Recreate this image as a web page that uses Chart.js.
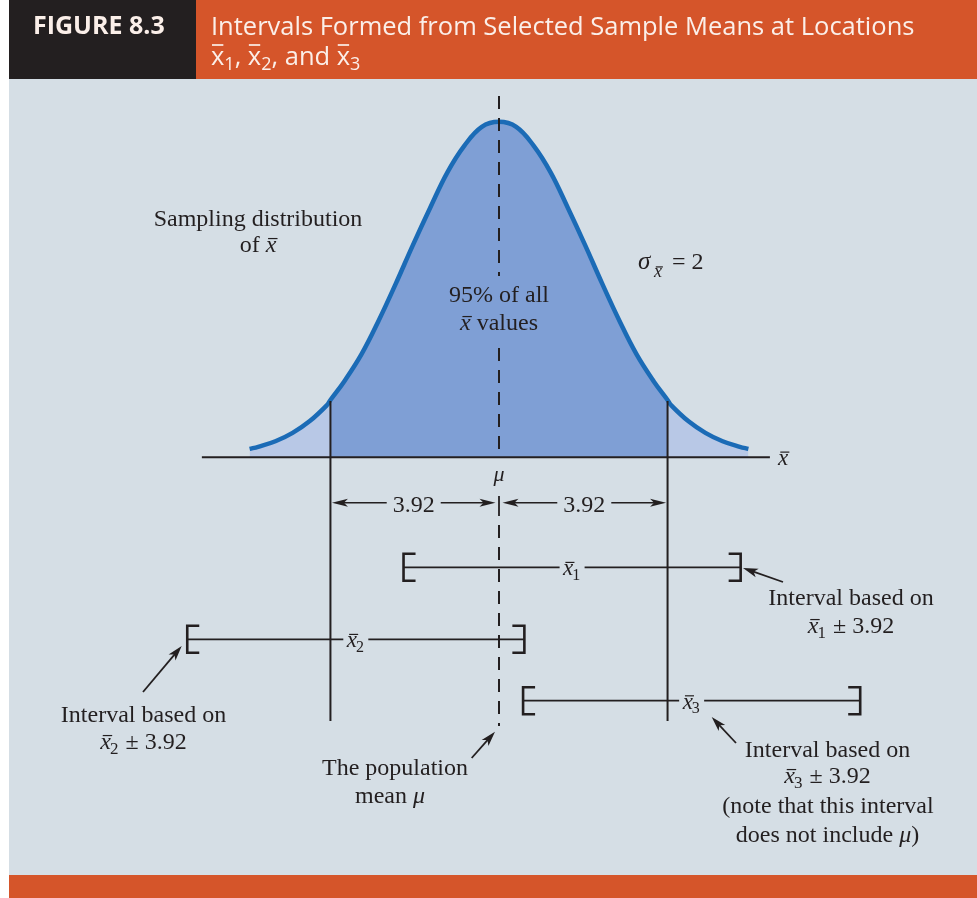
<!DOCTYPE html>
<html><head><meta charset="utf-8">
<script src="https://cdn.jsdelivr.net/npm/chart.js@4.4.1/dist/chart.umd.min.js"></script>
<style>html,body{margin:0;padding:0;background:#fff;}canvas{display:block;}</style>
</head><body>
<canvas id="c" width="977" height="898"></canvas>
<script>
// ---------------- data ----------------
const curveX = [-5.8,-5.6,-5.2,-4.8,-4.4,-4.0,-3.92,-3.6,-3.2,-2.8,-2.4,-2.0,-1.6,-1.2,-0.8,-0.4,0,0.4,0.8,1.2,1.6,2.0,2.4,2.8,3.2,3.6,3.92,4.0,4.4,4.8,5.2,5.6,5.8];
const curveY = [0.005,0.0062,0.0095,0.0145,0.0215,0.031,0.034,0.045,0.061,0.081,0.103,0.126,0.148,0.169,0.185,0.196,0.199,0.196,0.185,0.169,0.148,0.126,0.103,0.081,0.061,0.045,0.034,0.031,0.0215,0.0145,0.0095,0.0062,0.005];
const populationMean = 0;
const sigmaXbar = 2;
const marginOfError = 3.92;
const sampleMeanLabels = ['1', '2', '3'];
const sampleMeans = [1.70, -3.33, 4.48];
const figureNumber = 'FIGURE 8.3';
const titleLine1 = 'Intervals Formed from Selected Sample Means at Locations';

// ---------------- styling ----------------
const C = {
  bg: '#d5dee5', orange: '#d5552a', dark: '#231f20', ink: '#231f20',
  tail: '#b8c8e6', center: '#7f9fd5', curve: '#1b6bb6', head: '#fbefe9'
};
const SERIF = '"Liberation Serif", "Times New Roman", serif';
const SANS = '"Open Sans", "Noto Sans", sans-serif';
const PX_PER_X = 43, MU_PX = 499, BASE_PX = 457.3, PX_PER_Y = 1686;
const TOP = 79, BOTTOM = 875, W = 977;

const pts = curveX.map((x, i) => ({ x, y: curveY[i] }));
const lo = populationMean - marginOfError, hi = populationMean + marginOfError;
const eps = 1e-9;
const leftTail = pts.filter(p => p.x <= lo + eps);
const mid = pts.filter(p => p.x >= lo - eps && p.x <= hi + eps);
const rightTail = pts.filter(p => p.x >= hi - eps);

function line(ctx, x1, y1, x2, y2, w) {
  ctx.lineWidth = w; ctx.beginPath(); ctx.moveTo(x1, y1); ctx.lineTo(x2, y2); ctx.stroke();
}
function head(ctx, tx, ty, fx, fy, len, half) {
  const dx = tx - fx, dy = ty - fy, d = Math.hypot(dx, dy), ux = dx / d, uy = dy / d;
  const bx = tx - ux * len, by = ty - uy * len;
  ctx.beginPath(); ctx.moveTo(tx, ty);
  ctx.lineTo(bx - uy * half, by + ux * half);
  ctx.lineTo(bx + ux * len * 0.25, by + uy * len * 0.25);
  ctx.lineTo(bx + uy * half, by - ux * half);
  ctx.closePath(); ctx.fill();
}
function arrow(ctx, fx, fy, tx, ty) {
  const d = Math.hypot(tx - fx, ty - fy);
  const ex = tx - (tx - fx) / d * 8, ey = ty - (ty - fy) / d * 8;
  line(ctx, fx, fy, ex, ey, 1.8);
  head(ctx, tx, ty, fx, fy, 15, 4.5);
}
function pieceWidth(ctx, p, size) {
  if (p.rm !== undefined) { ctx.font = `${size}px ${SERIF}`; return ctx.measureText(p.rm).width; }
  if (p.it !== undefined) { ctx.font = `italic ${size}px ${SERIF}`; return ctx.measureText(p.it).width; }
  ctx.font = `italic ${size}px ${SERIF}`; let w = ctx.measureText('x').width;
  if (p.xb) { ctx.font = `${Math.round(size * 0.7)}px ${SERIF}`; w += ctx.measureText(p.xb).width; }
  return w;
}
function drawPiece(ctx, p, x, y, size) {
  if (p.rm !== undefined) { ctx.font = `${size}px ${SERIF}`; ctx.fillText(p.rm, x, y); return; }
  if (p.it !== undefined) { ctx.font = `italic ${size}px ${SERIF}`; ctx.fillText(p.it, x, y); return; }
  ctx.font = `italic ${size}px ${SERIF}`;
  const w = ctx.measureText('x').width;
  ctx.fillText('x', x, y);
  line(ctx, x + size * 0.1, y - size * 0.56, x + w + size * 0.05, y - size * 0.56, 1.2);
  if (p.xb) { ctx.font = `${Math.round(size * 0.7)}px ${SERIF}`; ctx.fillText(p.xb, x + w - 1, y + size * 0.2); }
}
function rich(ctx, parts, cx, y, size, align) {
  const ws = parts.map(p => pieceWidth(ctx, p, size));
  const total = ws.reduce((a, b) => a + b, 0);
  let x = align === 'left' ? cx : cx - total / 2;
  ctx.textAlign = 'left';
  parts.forEach((p, i) => { drawPiece(ctx, p, x, y, size); x += ws[i]; });
}
function bracket(ctx, x, y, dir) {
  ctx.lineWidth = 2.6; ctx.lineJoin = 'miter';
  ctx.beginPath(); ctx.moveTo(x + dir * 12, y - 13.5); ctx.lineTo(x, y - 13.5);
  ctx.lineTo(x, y + 13.5); ctx.lineTo(x + dir * 12, y + 13.5); ctx.stroke();
}

const overlay = {
  id: 'overlay',
  beforeDraw(chart) {
    const ctx = chart.ctx; ctx.save();
    ctx.fillStyle = '#ffffff'; ctx.fillRect(0, 0, W, 898);
    ctx.fillStyle = C.bg; ctx.fillRect(9, TOP, W - 9, BOTTOM - TOP);
    ctx.fillStyle = C.orange; ctx.fillRect(9, 0, W - 9, TOP); ctx.fillRect(9, BOTTOM, W - 9, 898 - BOTTOM);
    ctx.fillStyle = C.dark; ctx.fillRect(9, 0, 187, TOP);
    ctx.textBaseline = 'alphabetic'; ctx.textAlign = 'left';
    ctx.fillStyle = C.head; ctx.font = `bold 25px ${SANS}`;
    ctx.fillText(figureNumber, 33, 34, 139);
    ctx.font = `25.5px ${SANS}`;
    ctx.fillText(titleLine1, 211, 35, 710);
    // second line: x̄1, x̄2, and x̄3
    ctx.strokeStyle = C.head;
    let x = 211; const y = 65;
    sampleMeanLabels.forEach((lab, i) => {
      ctx.font = `25.5px ${SANS}`;
      const w = ctx.measureText('x').width;
      ctx.fillText('x', x, y);
      line(ctx, x + 1, y - 20, x + w - 1, y - 20, 1.7);
      x += w;
      ctx.font = `18px ${SANS}`; ctx.fillText(lab, x, y + 5); x += ctx.measureText(lab).width;
      ctx.font = `25.5px ${SANS}`;
      const sep = i === 0 ? ', ' : (i === 1 ? ', and ' : '');
      if (sep) { ctx.fillText(sep, x, y); x += ctx.measureText(sep).width; }
    });
    ctx.restore();
  },
  afterDatasetsDraw(chart) {
    const ctx = chart.ctx, X = chart.scales.x, Y = chart.scales.y;
    const px = v => X.getPixelForValue(v), py = v => Y.getPixelForValue(v);
    const base = py(0), mu = px(populationMean);
    ctx.save();
    ctx.strokeStyle = C.ink; ctx.fillStyle = C.ink; ctx.lineCap = 'butt';
    ctx.textBaseline = 'alphabetic';
    // horizontal axis
    line(ctx, px(-6.91), base, px(6.3), base, 2);
    // 95% boundaries
    [lo, hi].forEach(b => {
      const h = curveY[curveX.indexOf(b)];
      line(ctx, px(b), py(h) + 1, px(b), 721, 2);
    });
    // population mean dashed line
    ctx.setLineDash([13, 9]);
    [[96, 276], [348, base], [525, 726]].forEach(s => { ctx.lineDashOffset = 0; line(ctx, mu, s[0], mu, s[1], 2); });
    ctx.setLineDash([]);
    line(ctx, mu, 496, mu, 516, 1.8);
    // dimension arrows ±3.92
    const dimY = 502.7, lab = marginOfError.toFixed(2);
    const dim = (a, b) => {
      const m = (a + b) / 2;
      ctx.font = `24px ${SERIF}`; const tw = ctx.measureText(lab).width;
      line(ctx, a + 10, dimY, m - tw / 2 - 6, dimY, 1.6);
      line(ctx, m + tw / 2 + 6, dimY, b - 10, dimY, 1.6);
      head(ctx, a, dimY, a + 20, dimY, 16, 4);
      head(ctx, b, dimY, b - 20, dimY, 16, 4);
      ctx.textAlign = 'center'; ctx.fillText(lab, m, dimY + 9);
    };
    dim(px(lo) + 1.5, mu - 3.5);
    dim(mu + 3.5, px(hi) - 1.5);
    // sample-mean intervals
    const rowsY = [567.3, 639.3, 700.7];
    sampleMeans.forEach((m, i) => {
      const a = px(m - marginOfError), b = px(m + marginOfError), c = px(m), y = rowsY[i];
      line(ctx, a, y, c - 12.5, y, 1.8);
      line(ctx, c + 12.5, y, b, y, 1.8);
      bracket(ctx, a, y, 1); bracket(ctx, b, y, -1);
      rich(ctx, [{ xb: sampleMeanLabels[i] }], c - 9, y + 8, 23, 'left');
    });
    // texts
    ctx.textAlign = 'center'; ctx.font = `24px ${SERIF}`;
    ctx.fillText('Sampling distribution', 258, 226);
    rich(ctx, [{ rm: 'of ' }, { xb: '' }], 258, 252, 24);
    ctx.textAlign = 'center'; ctx.font = `24px ${SERIF}`;
    ctx.fillText('95% of all', mu, 302);
    rich(ctx, [{ xb: '' }, { rm: ' values' }], mu, 330, 24);
    // sigma
    ctx.textAlign = 'left'; ctx.font = `italic 25px ${SERIF}`;
    ctx.fillText('σ', 638, 269);
    drawPiece(ctx, { xb: '' }, 654, 277, 18);
    ctx.font = `24px ${SERIF}`; ctx.fillText('= ' + sigmaXbar, 672, 269);
    // axis label and mu
    drawPiece(ctx, { xb: '' }, 778, 465, 23);
    ctx.textAlign = 'center'; ctx.font = `italic 22px ${SERIF}`; ctx.fillText('μ', mu, 481);
    // annotations
    const pm = ' ± ' + marginOfError.toFixed(2);
    ctx.font = `24px ${SERIF}`; ctx.textAlign = 'center';
    ctx.fillText('Interval based on', 851, 605);
    rich(ctx, [{ xb: sampleMeanLabels[0] }, { rm: pm }], 851, 633, 24);
    ctx.font = `24px ${SERIF}`; ctx.textAlign = 'center';
    ctx.fillText('Interval based on', 143.5, 721.7);
    rich(ctx, [{ xb: sampleMeanLabels[1] }, { rm: pm }], 143.5, 749, 24);
    ctx.font = `24px ${SERIF}`; ctx.textAlign = 'center';
    ctx.fillText('The population', 395, 775);
    rich(ctx, [{ rm: 'mean ' }, { it: 'μ' }], 390, 803, 24);
    ctx.font = `24px ${SERIF}`; ctx.textAlign = 'center';
    ctx.fillText('Interval based on', 827.5, 756.7);
    rich(ctx, [{ xb: sampleMeanLabels[2] }, { rm: pm }], 827.5, 783, 24);
    ctx.font = `24px ${SERIF}`; ctx.textAlign = 'center';
    ctx.fillText('(note that this interval', 828, 813);
    rich(ctx, [{ rm: 'does not include ' }, { it: 'μ' }, { rm: ')' }], 827.5, 841.7, 24);
    // annotation arrows
    arrow(ctx, 783, 582, 743, 568);
    arrow(ctx, 143, 692, 181.7, 646);
    arrow(ctx, 471.7, 758, 495, 731.7);
    arrow(ctx, 736, 743, 711.7, 717);
    ctx.restore();
  }
};

function make() {
  const common = { showLine: true, pointRadius: 0, tension: 0.4 };
  new Chart(document.getElementById('c'), {
    type: 'scatter',
    data: {
      datasets: [
        { ...common, order: 0, data: pts, fill: false, borderColor: C.curve, borderWidth: 4.5 },
        { ...common, order: 1, data: leftTail, fill: 'origin', backgroundColor: C.tail, borderWidth: 0, borderColor: 'rgba(0,0,0,0)' },
        { ...common, order: 1, data: mid, fill: 'origin', backgroundColor: C.center, borderWidth: 0, borderColor: 'rgba(0,0,0,0)' },
        { ...common, order: 1, data: rightTail, fill: 'origin', backgroundColor: C.tail, borderWidth: 0, borderColor: 'rgba(0,0,0,0)' }
      ]
    },
    options: {
      responsive: false, animation: false, devicePixelRatio: 1, events: [],
      layout: { padding: { left: 0, right: 0, top: TOP, bottom: 898 - BOTTOM } },
      plugins: { legend: { display: false }, tooltip: { enabled: false } },
      scales: {
        x: { type: 'linear', display: false, min: populationMean - MU_PX / PX_PER_X, max: populationMean + (W - MU_PX) / PX_PER_X },
        y: { type: 'linear', display: false, min: -(BOTTOM - BASE_PX) / PX_PER_Y, max: (BASE_PX - TOP) / PX_PER_Y }
      }
    },
    plugins: [overlay]
  });
}
Promise.all([
  document.fonts.load(`24px "Liberation Serif"`),
  document.fonts.load(`italic 24px "Liberation Serif"`),
  document.fonts.load(`25px "Open Sans"`),
  document.fonts.load(`bold 25px "Open Sans"`)
]).then(make, make);
</script>
</body></html>
